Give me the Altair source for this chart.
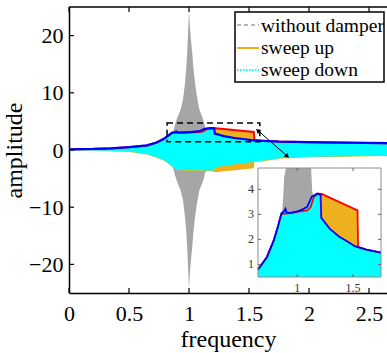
import altair as alt
import pandas as pd

# ------------------------------------------------------------------
# Values
# ------------------------------------------------------------------
# "without damper" envelope (symmetric, gray)
g_f = [0.80, 0.85, 0.87, 0.885, 0.90, 0.93, 0.95, 0.967, 0.978, 0.986,
       0.994, 1.00, 1.006, 1.015, 1.027, 1.036, 1.05, 1.065, 1.086, 1.11, 1.125,
       1.135, 1.20, 1.30, 1.45, 1.60]
g_a = [1.6, 2.5, 3.3, 4.5, 5.5, 7.1, 8.8, 11.8, 14.5, 17.5,
       21.5, 24.5, 22.0, 19.5, 17.0, 14.5, 11.8, 9.5, 7.1, 5.8, 4.85,
       3.9, 3.0, 2.4, 1.9, 1.6]

# "sweep down": upper envelope (blue line) and lower envelope (cyan fill)
sd_f = [0.00, 0.20, 0.35, 0.50, 0.65, 0.73, 0.79, 0.83, 0.86, 0.88, 0.895, 0.905,
        0.94, 1.01, 1.05, 1.09, 1.13, 1.18, 1.21, 1.215, 1.29, 1.38, 1.45, 1.52,
        1.55, 1.62, 1.75, 2.00, 2.30, 2.65]
sd_hi = [0.12, 0.18, 0.30, 0.50, 0.80, 1.30, 1.95, 2.55, 3.05, 3.10, 3.22, 3.08,
         3.05, 3.13, 3.20, 3.30, 3.70, 3.83, 3.79, 2.87, 2.43, 2.10, 1.92, 1.72,
         1.68, 1.59, 1.47, 1.37, 1.28, 1.20]
sd_lo = [-0.05, -0.08, -0.12, -0.25, -0.70, -1.25, -1.75, -2.35, -2.85, -3.20, -3.35, -3.40,
         -3.50, -3.55, -3.55, -3.55, -3.58, -3.60, -3.60, -3.00, -2.80, -2.50, -2.30, -2.15,
         -2.05, -1.85, -1.45, -1.20, -1.10, -1.00]

# "sweep up": upper envelope (red line) and lower envelope (orange fill)
su_f = [0.00, 0.20, 0.35, 0.50, 0.65, 0.73, 0.79, 0.83, 0.86, 0.90, 0.94, 1.00,
        1.09, 1.12, 1.15, 1.19, 1.22, 1.54, 1.545, 1.62, 1.75, 2.00, 2.30, 2.65]
su_hi = [0.12, 0.18, 0.30, 0.50, 0.80, 1.30, 1.95, 2.55, 3.02, 3.03, 3.06, 3.10,
         3.16, 3.28, 3.70, 3.83, 3.82, 3.16, 1.70, 1.59, 1.47, 1.37, 1.28, 1.20]
su_lo = [-0.10, -0.14, -0.20, -0.35, -0.80, -1.35, -1.85, -2.45, -2.95, -3.35, -3.60, -3.65,
         -3.65, -3.65, -3.68, -3.70, -3.90, -3.20, -2.10, -1.95, -1.55, -1.28, -1.16, -1.05]

x_ticks = [0, 0.5, 1, 1.5, 2, 2.5]
y_ticks = [-20, -10, 0, 10, 20]
ins_x_ticks = [1, 1.5]
ins_y_ticks = [1, 2, 3, 4]
legend_labels = ["without damper", "sweep up", "sweep down"]

zoom_f = [0.817, 1.59]
zoom_a = [1.45, 4.7]
arrow_f = [1.578, 1.814]
arrow_a = [3.34, -0.99]

X_DOM = [0, 2.65]
Y_DOM = [-25, 25]
INS_X_DOM = [0.65, 1.75]
INS_Y_DOM = [0.5, 4.85]

# ------------------------------------------------------------------
gray_df = pd.DataFrame({"f": g_f, "hi": g_a, "lo": [-a for a in g_a]})
sd_df = pd.DataFrame({"f": sd_f, "hi": sd_hi, "lo": sd_lo})
su_df = pd.DataFrame({"f": su_f, "hi": su_hi, "lo": su_lo})
zoom_df = pd.DataFrame({"f0": [zoom_f[0]], "f1": [zoom_f[1]], "a0": [zoom_a[0]], "a1": [zoom_a[1]]})
arrow_df = pd.DataFrame({"f": arrow_f, "hi": arrow_a})
xt_df = pd.DataFrame({"f": x_ticks})
yt_df = pd.DataFrame({"hi": y_ticks})
ixt_df = pd.DataFrame({"f": ins_x_ticks})
iyt_df = pd.DataFrame({"hi": ins_y_ticks})
one = pd.DataFrame({"k": [0]})

W, H = 318, 286
FONT = "Liberation Serif"
GRAY = "#a6a6a6"
ORANGE = "#EDB120"
CYAN = "#00FFFF"

xs = alt.Scale(domain=X_DOM, nice=False, zero=False)
ys = alt.Scale(domain=Y_DOM, nice=False, zero=False)
xax = alt.Axis(values=x_ticks, format="~g", title="frequency", tickSize=0, labelPadding=10,
               domainColor="black", domainWidth=1.5, labelFont=FONT, labelFontSize=22,
               labelColor="black", titleFont=FONT, titleFontSize=24, titleFontWeight="normal",
               titleColor="black", titlePadding=3, grid=False, labelFlush=False, labelOverlap=False)
yax = alt.Axis(values=y_ticks, format="d", title="amplitude", tickSize=0, labelPadding=6,
               domainColor="black", domainWidth=1.5, labelFont=FONT, labelFontSize=22,
               labelColor="black", titleFont=FONT, titleFontSize=24, titleFontWeight="normal",
               titleColor="black", titlePadding=2, grid=False, labelFlush=False, labelOverlap=False)


def X(field):
    return alt.X(f"{field}:Q", scale=xs, axis=xax)


def Y(field):
    return alt.Y(f"{field}:Q", scale=ys, axis=yax)


gray = alt.Chart(gray_df).mark_area(color=GRAY).encode(x=X("f"), y=Y("hi"), y2="lo:Q")
orange = alt.Chart(su_df).mark_area(color=ORANGE).encode(x=X("f"), y=Y("hi"), y2="lo:Q")
cyan = alt.Chart(sd_df).mark_area(color=CYAN).encode(x=X("f"), y=Y("hi"), y2="lo:Q")
red = alt.Chart(su_df).mark_line(color="#FF0000", strokeWidth=2).encode(x=X("f"), y=Y("hi"))
blue = alt.Chart(sd_df).mark_line(color="#0000FF", strokeWidth=2.2).encode(x=X("f"), y=Y("hi"))

zoom_rect = alt.Chart(zoom_df).mark_rect(fillOpacity=0, stroke="black", strokeWidth=1.5,
                                         strokeDash=[6, 4]).encode(
    x=X("f0"), x2="f1:Q", y=Y("a0"), y2="a1:Q")
arrow_line = alt.Chart(arrow_df).mark_line(color="black", strokeWidth=1).encode(x=X("f"), y=Y("hi"))
head_end = alt.Chart(arrow_df.iloc[[1]]).mark_point(shape="triangle", filled=True, size=28,
                                                     color="black", opacity=1, angle=131).encode(
    x=X("f"), y=Y("hi"))
head_start = alt.Chart(arrow_df.iloc[[0]]).mark_point(shape="triangle", filled=True, size=28,
                                                       color="black", opacity=1, angle=311).encode(
    x=X("f"), y=Y("hi"))

top_border = alt.Chart(one).mark_rule(color="black", strokeWidth=1.5).encode(
    x=alt.value(0), x2=alt.value(W), y=alt.value(0))
top_ticks = alt.Chart(xt_df).mark_rule(color="black", strokeWidth=1.2).encode(
    x=X("f"), y=alt.value(0), y2=alt.value(5))
bot_ticks = alt.Chart(xt_df).mark_rule(color="black", strokeWidth=1.2).encode(
    x=X("f"), y=alt.value(H), y2=alt.value(H - 5))
left_ticks = alt.Chart(yt_df).mark_rule(color="black", strokeWidth=1.2).encode(
    y=Y("hi"), x=alt.value(0), x2=alt.value(5))

# legend (drawn by hand, MATLAB style box)
leg_box = alt.Chart(one).mark_rect(fill="white", stroke="black", strokeWidth=1.5).encode(
    x=alt.value(166), x2=alt.value(315), y=alt.value(5), y2=alt.value(75))
leg_items = []
leg_styles = [
    dict(color="#a0a0a0", strokeWidth=1.5, strokeDash=[4, 3]),
    dict(color=ORANGE, strokeWidth=2),
    dict(color=CYAN, strokeWidth=2, strokeDash=[1.5, 1.5]),
]
leg_line_y = [18, 41, 63]
leg_text_y = [24.7, 47, 69]
for lab, sty, ly, ty in zip(legend_labels, leg_styles, leg_line_y, leg_text_y):
    leg_items.append(alt.Chart(one).mark_rule(**sty).encode(
        x=alt.value(168), x2=alt.value(190), y=alt.value(ly)))
    leg_items.append(alt.Chart(pd.DataFrame({"label": [lab]})).mark_text(
        align="left", baseline="alphabetic", font=FONT, fontSize=19.5, color="black").encode(
        x=alt.value(192), y=alt.value(ty), text="label:N"))

main = alt.layer(gray, orange, cyan, red, blue, zoom_rect, arrow_line, head_end, head_start,
                 top_border, top_ticks, bot_ticks, left_ticks, leg_box, *leg_items)

# ------------------------------------------------------------------
# inset
# ------------------------------------------------------------------
ixs = alt.Scale(domain=INS_X_DOM, range=[189, 312], nice=False, zero=False)
iys = alt.Scale(domain=INS_Y_DOM, range=[270, 161], nice=False, zero=False, clamp=True)


def IX(field):
    return alt.X(f"{field}:Q", scale=ixs, axis=None)


def IY(field):
    return alt.Y(f"{field}:Q", scale=iys, axis=None)


in_range = (alt.datum.f >= INS_X_DOM[0]) & (alt.datum.f <= INS_X_DOM[1])

ins_bg = alt.Chart(one).mark_rect(fill="white").encode(
    x=alt.X(datum=INS_X_DOM[0], scale=ixs, axis=None), x2=alt.X2(datum=INS_X_DOM[1]),
    y=alt.Y(datum=INS_Y_DOM[0], scale=iys, axis=None), y2=alt.Y2(datum=INS_Y_DOM[1]))
i_gray = alt.Chart(gray_df).transform_filter(in_range).mark_area(color=GRAY).encode(
    x=IX("f"), y=IY("hi"), y2="lo:Q")
i_orange = alt.Chart(su_df).transform_filter(in_range).mark_area(color=ORANGE).encode(
    x=IX("f"), y=IY("hi"), y2="lo:Q")
i_cyan = alt.Chart(sd_df).transform_filter(in_range).mark_area(color=CYAN).encode(
    x=IX("f"), y=IY("hi"), y2="lo:Q")
i_red = alt.Chart(su_df).transform_filter(in_range).mark_line(color="#FF0000", strokeWidth=1.8).encode(
    x=IX("f"), y=IY("hi"))
i_blue = alt.Chart(sd_df).transform_filter(in_range).mark_line(color="#0000FF", strokeWidth=1.8).encode(
    x=IX("f"), y=IY("hi"))
ins_frame = alt.Chart(one).mark_rect(fillOpacity=0, stroke="#8c8c8c", strokeWidth=1).encode(
    x=alt.X(datum=INS_X_DOM[0], scale=ixs, axis=None), x2=alt.X2(datum=INS_X_DOM[1]),
    y=alt.Y(datum=INS_Y_DOM[0], scale=iys, axis=None), y2=alt.Y2(datum=INS_Y_DOM[1]))
i_lt = alt.Chart(iyt_df).mark_rule(color="#666666").encode(y=IY("hi"), x=alt.value(189), x2=alt.value(192))
i_rt = alt.Chart(iyt_df).mark_rule(color="#666666").encode(y=IY("hi"), x=alt.value(312), x2=alt.value(309))
i_bt = alt.Chart(ixt_df).mark_rule(color="#666666").encode(x=IX("f"), y=alt.value(270), y2=alt.value(267))
i_tt = alt.Chart(ixt_df).mark_rule(color="#666666").encode(x=IX("f"), y=alt.value(161), y2=alt.value(164))
i_ylab = alt.Chart(iyt_df).mark_text(align="right", baseline="middle", font=FONT, fontSize=12,
                                     color="#333333").encode(
    y=IY("hi"), x=alt.value(185), text=alt.Text("hi:Q", format="~g"))
i_xlab = alt.Chart(ixt_df).mark_text(align="center", baseline="middle", font=FONT, fontSize=12,
                                     color="#333333").encode(
    x=IX("f"), y=alt.value(281), text=alt.Text("f:Q", format="~g"))

inset = alt.layer(ins_bg, i_gray, i_orange, i_cyan, i_red, i_blue, ins_frame,
                  i_lt, i_rt, i_bt, i_tt, i_ylab, i_xlab)

chart = alt.layer(main, inset).resolve_scale(x="independent", y="independent").properties(
    width=W, height=H,
    autosize=alt.AutoSizeParams(type="none"),
    padding={"left": 69, "top": 7, "right": 0, "bottom": 60},
    background="white",
).configure_view(stroke=None)

chart.save("out.html", embed_options={"renderer": "svg", "actions": False})
